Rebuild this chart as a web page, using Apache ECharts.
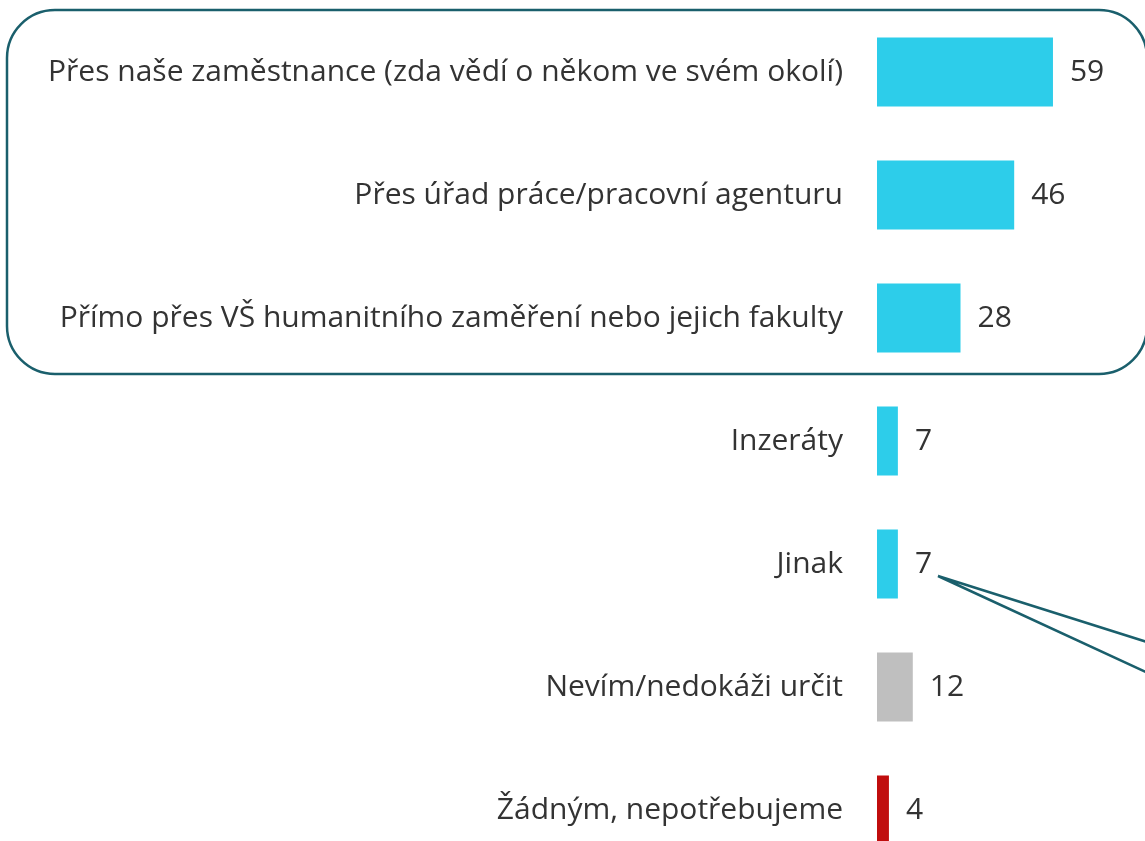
<!DOCTYPE html>
<html>
<head>
<meta charset="utf-8">
<script src="https://cdn.jsdelivr.net/npm/echarts@6/dist/echarts.min.js"></script>
<style>
  html, body { margin: 0; padding: 0; background: #fff; }
  #chart { width: 1145px; height: 841px; }
</style>
</head>
<body>
<div id="chart"></div>
<script>
const categories = [
  'Přes naše zaměstnance (zda vědí o někom ve svém okolí)',
  'Přes úřad práce/pracovní agenturu',
  'Přímo přes VŠ humanitního zaměření nebo jejich fakulty',
  'Inzeráty',
  'Jinak',
  'Nevím/nedokáži určit',
  'Žádným, nepotřebujeme',
]
const values = [59, 46, 28, 7, 7, 12, 4]
const barColors = ['#2dcdea', '#2dcdea', '#2dcdea', '#2dcdea', '#2dcdea', '#bfbfbf', '#c00d0d']

const FONT = '"Open Sans", "Noto Sans", sans-serif'
const TEAL = '#1a5f6c'

const chart = echarts.init(document.getElementById('chart'), null, { renderer: 'canvas' })

chart.setOption({
  animation: false,
  backgroundColor: '#ffffff',
  grid: {
    left: 877,
    right: 29.4,
    top: 10.5,
    height: 861,
    containLabel: false,
    outerBoundsMode: 'none',
  },
  xAxis: {
    type: 'value',
    min: 0,
    max: 80,
    show: false,
  },
  yAxis: {
    type: 'category',
    data: categories,
    inverse: true,
    axisLine: { show: false },
    axisTick: { show: false },
    axisLabel: {
      margin: 34,
      fontFamily: FONT,
      fontSize: 30,
      color: '#333333',
    },
  },
  series: [
    {
      type: 'bar',
      barWidth: 69,
      data: values.map((v, i) => ({ value: v, itemStyle: { color: barColors[i] } })),
      label: {
        show: true,
        position: 'right',
        distance: 17,
        fontFamily: FONT,
        fontSize: 30,
        color: '#333333',
      },
    },
  ],
  graphic: [
    {
      type: 'rect',
      shape: { x: 7, y: 10, width: 1140, height: 364, r: 48 },
      style: { fill: 'none', stroke: TEAL, lineWidth: 2.5 },
      z: 10,
    },
    {
      type: 'polyline',
      shape: { points: [[1150, 643], [938, 576], [1150, 674]] },
      style: { fill: 'none', stroke: TEAL, lineWidth: 2.5 },
      z: 10,
    },
  ],
})
</script>
</body>
</html>
